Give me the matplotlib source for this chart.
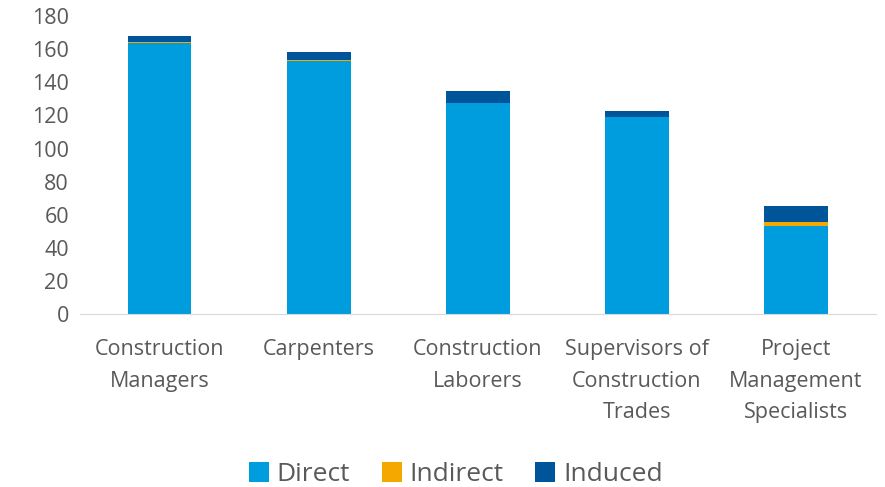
import numpy as np
import matplotlib.pyplot as plt

# Data
categories = ["Construction\nManagers", "Carpenters", "Construction\nLaborers",
              "Supervisors of\nConstruction\nTrades", "Project\nManagement\nSpecialists"]
direct = [164.0, 153.0, 127.2, 118.8, 53.2]
indirect = [0.5, 0.5, 0.6, 0.5, 2.2]
induced = [3.5, 4.7, 7.0, 3.6, 9.8]

c_direct = "#009DDE"
c_indirect = "#F5A800"
c_induced = "#00559A"
grey = "#595959"

plt.rcParams['font.family'] = ['Open Sans', 'DejaVu Sans']

fig = plt.figure(figsize=(8.85, 4.87), dpi=100)
ax = fig.add_axes([0.0904, 0.355, 0.899, 0.612])

x = np.arange(len(categories))
w = 0.4
d = np.array(direct)
i_ = np.array(indirect)
n = np.array(induced)
ax.bar(x, d, w, color=c_direct, label="Direct")
ax.bar(x, i_, w, bottom=d, color=c_indirect, label="Indirect")
ax.bar(x, n, w, bottom=d + i_, color=c_induced, label="Induced")

ax.set_xlim(-0.5, len(categories) - 0.5)
ax.set_ylim(0, 180)
ax.set_yticks(np.arange(0, 181, 20))
ax.set_xticks(x)
ax.set_xticklabels(categories, fontsize=15.5, color=grey, linespacing=1.65)
ax.tick_params(axis='y', labelsize=15.5, labelcolor=grey, length=0, pad=8)
ax.tick_params(axis='x', length=0, pad=18)

for s in ["top", "right", "left"]:
    ax.spines[s].set_visible(False)
ax.spines["bottom"].set_color("#D9D9D9")

fig.legend(loc="center", bbox_to_anchor=(0.515, 0.025), ncol=3, frameon=False,
           fontsize=19, handlelength=0.75, handleheight=0.75, handletextpad=0.3,
           columnspacing=1.2, labelcolor=grey)

fig.savefig("out.png", dpi=100)
